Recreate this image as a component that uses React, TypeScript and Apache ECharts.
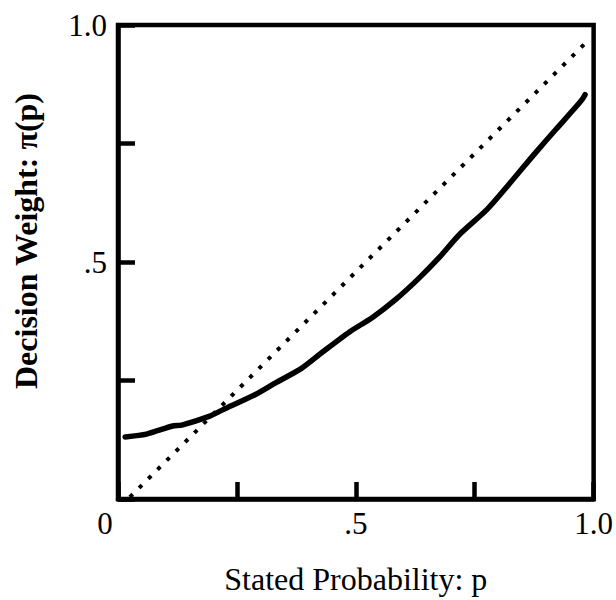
import React, { useEffect, useRef } from 'react';
import * as echarts from 'echarts';

// Solid curve: decision weight as a function of stated probability
const probabilities = [0.015, 0.06, 0.115, 0.134, 0.193, 0.22, 0.29, 0.333, 0.385, 0.43, 0.486, 0.535, 0.584, 0.633, 0.675, 0.717, 0.776, 0.822, 0.874, 0.92, 0.972, 0.982];
const decisionWeights = [0.131, 0.137, 0.154, 0.156, 0.175, 0.188, 0.221, 0.246, 0.275, 0.31, 0.352, 0.383, 0.421, 0.466, 0.509, 0.557, 0.611, 0.664, 0.726, 0.779, 0.838, 0.853];

// Dotted reference diagonal
const diagonalP = [0.025, 0.983];
const diagonalW = [0.004, 0.962];

// Tick labels
const xTickValues = [0, 0.5, 1];
const xTickLabels = ['0', '.5', '1.0'];
const yTickValues = [0.5, 1];
const yTickLabels = ['.5', '1.0'];

const xTitle = 'Stated Probability: p';
const yTitle = 'Decision Weight: π(p)';

const FONT = '"Liberation Serif", "Times New Roman", serif';

export default function App() {
  const ref = useRef<HTMLDivElement>(null);
  useEffect(() => {
    if (!ref.current) return;
    const chart = echarts.init(ref.current, null, { renderer: 'svg' });
    const curve = probabilities.map((p, i) => [p, decisionWeights[i]]);
    const diag = diagonalP.map((p, i) => [p, diagonalW[i]]);
    const labelFor = (vals: number[], labs: string[], v: number) => {
      const i = vals.findIndex((t) => Math.abs(t - v) < 1e-6);
      return i >= 0 ? labs[i] : '';
    };
    chart.setOption({
      animation: false,
      backgroundColor: '#fff',
      grid: {
        left: 118,
        right: 21,
        top: 25,
        bottom: 100,
        show: true,
        borderColor: '#000',
        borderWidth: 4.5,
        backgroundColor: 'transparent',
      },
      xAxis: {
        type: 'value',
        min: 0,
        max: 1,
        interval: 0.25,
        name: xTitle,
        nameLocation: 'middle',
        nameGap: 64,
        nameTextStyle: { fontFamily: FONT, fontSize: 32, color: '#000' },
        axisLine: { show: true, lineStyle: { color: '#000', width: 4.5 } },
        axisTick: { show: true, inside: true, length: 17, lineStyle: { color: '#000', width: 4.5 } },
        splitLine: { show: false },
        axisLabel: {
          show: true,
          margin: 9,
          fontFamily: FONT,
          fontSize: 31,
          color: '#000',
          formatter: (v: number) => {
            const s = labelFor(xTickValues, xTickLabels, v);
            if (s === '0') return '{o|0}';
            return s;
          },
          rich: {
            o: { fontFamily: FONT, fontSize: 31, color: '#000', padding: [0, 26, 0, 0] },
          },
        },
      },
      yAxis: {
        type: 'value',
        min: 0,
        max: 1,
        interval: 0.25,
        axisLine: { show: true, lineStyle: { color: '#000', width: 4.5 } },
        axisTick: { show: true, inside: true, length: 17, lineStyle: { color: '#000', width: 4.5 } },
        splitLine: { show: false },
        axisLabel: {
          show: true,
          margin: 11,
          fontFamily: FONT,
          fontSize: 31,
          color: '#000',
          padding: [0, 0, 14, 0],
          formatter: (v: number) => labelFor(yTickValues, yTickLabels, v),
        },
      },
      graphic: [
        {
          type: 'text',
          x: 26,
          y: 241,
          rotation: Math.PI / 2,
          style: {
            text: yTitle,
            font: 'bold 32px ' + FONT,
            fill: '#000',
            align: 'center',
            verticalAlign: 'middle',
          },
        },
      ],
      series: [
        {
          type: 'line',
          data: diag,
          symbol: 'none',
          lineStyle: { color: '#000', width: 4, type: [4, 9], cap: 'butt' },
          silent: true,
        },
        {
          type: 'line',
          data: curve,
          symbol: 'none',
          smooth: 0.25,
          lineStyle: { color: '#000', width: 5.5, cap: 'round', join: 'round' },
          silent: true,
        },
      ],
    });
    return () => chart.dispose();
  }, []);
  return (
    <div
      ref={ref}
      style={{ position: 'fixed', left: 0, top: 0, width: 616, height: 600, background: '#fff' }}
    />
  );
}
